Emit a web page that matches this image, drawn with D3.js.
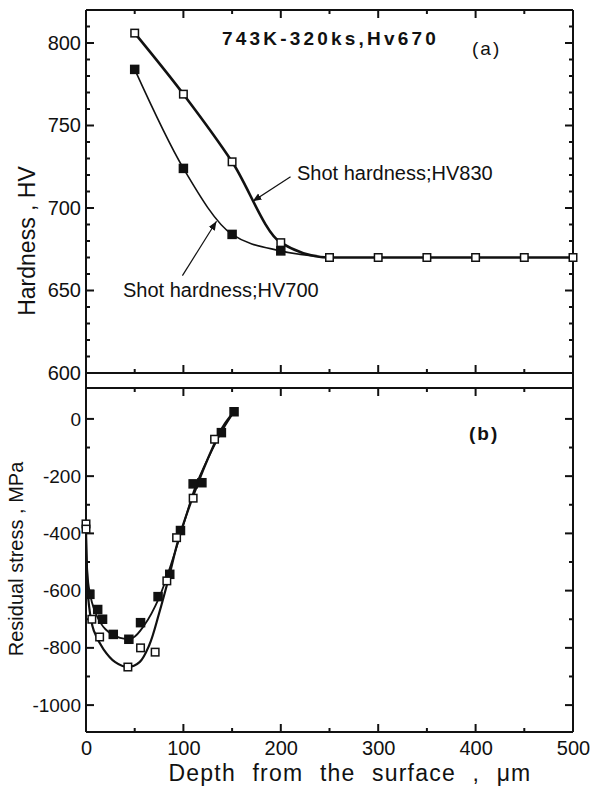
<!DOCTYPE html>
<html>
<head>
<meta charset="utf-8">
<script src="https://cdn.jsdelivr.net/npm/d3@7"></script>
<style>
	body { margin: 0; background: white; }
	text { font-family: "Liberation Sans", Arial, sans-serif; fill: #111; }
</style>
</head>
<body>
<div id="viz"></div>
<script>

// Depth axis
var depthTicks = [0, 100, 200, 300, 400, 500],
	depthMinor = [50, 150, 250, 350, 450];

// (a) hardness panel
var hardTicks = [600, 650, 700, 750, 800],
	depthHard = [50, 100, 150, 200, 250, 300, 350, 400, 450, 500],
	hv830 = [806, 769, 728, 679, 670, 670, 670, 670, 670, 670],
	depthHard700 = [50, 100, 150, 200, 250],
	hv700 = [784, 724, 684, 674, 670];

// (b) residual stress panel
var stressTicks = [0, -200, -400, -600, -800, -1000],
	depthOpen = [0, 0, 6, 14, 43, 56, 71, 83, 93, 110, 132],
	stressOpen = [-367, -385, -700, -762, -867, -800, -815, -566, -415, -277, -71],
	depthFilled = [4, 12, 17, 28, 44, 56, 74, 86, 97, 110, 119, 139, 152],
	stressFilled = [-613, -666, -700, -753, -770, -712, -621, -543, -390, -227, -223, -48, 25];

// fitted curves
var fitOpenDepth = [0, 3, 8, 18, 30, 43, 55, 65, 75, 85, 95, 110, 125, 140, 152],
	fitOpenStress = [-380, -650, -740, -805, -850, -867, -850, -790, -680, -555, -420, -270, -140, -30, 25],
	fitFilledDepth = [0, 3, 10, 20, 35, 48, 60, 75, 90, 100, 112, 125, 140, 152],
	fitFilledStress = [-380, -590, -680, -735, -765, -765, -720, -625, -480, -370, -240, -140, -40, 25];

var width = 594, height = 787;

var x = d3.scaleLinear([0, 500], [86, 573]),
	yA = d3.scaleLinear([600, 820], [373, 10]),
	yB = d3.scaleLinear([-1094, 108], [732, 388]);

var svg = d3.select("#viz")
	.append("svg")
	.attr("width", width)
	.attr("height", height)
	.style("background-color", "white");

var zip = (xs, ys) => xs.map((d, i) => [d, ys[i]]);

// Tick marks, drawn inward from each border
var ticks = svg.append("g").style("stroke", "#111").style("stroke-width", 2);

var xTickSet = depthTicks.slice(1, 5).map(d => ({v: d, len: 8}))
	.concat(depthMinor.map(d => ({v: d, len: 4})));
[[yA(600), -1], [yA(820), 1], [yB(108), 1], [yB(-1094), -1]].forEach(b => {
	ticks.append("g").selectAll("line")
		.data(xTickSet)
		.enter()
		.append("line")
		.attr("x1", d => x(d.v)).attr("x2", d => x(d.v))
		.attr("y1", b[0]).attr("y2", d => b[0] + b[1] * d.len);
});

var hardMinor = d3.range(610, 820, 10).filter(d => d % 50 != 0),
	stressMinor = d3.range(-1000, 100, 100).filter(d => d % 200 != 0);
var yTickSet = hardTicks.slice(1).map(d => ({y: yA(d), len: 8}))
	.concat(hardMinor.map(d => ({y: yA(d), len: 4})))
	.concat(stressTicks.map(d => ({y: yB(d), len: 8})))
	.concat(stressMinor.map(d => ({y: yB(d), len: 4})));
[[x(0), 1], [x(500), -1]].forEach(b => {
	ticks.append("g").selectAll("line")
		.data(yTickSet)
		.enter()
		.append("line")
		.attr("y1", d => d.y).attr("y2", d => d.y)
		.attr("x1", b[0]).attr("x2", d => b[0] + b[1] * d.len);
});

// Tick labels
var plain = d => String(d);

svg.append("g").attr("transform", "translate(86,0)")
	.call(d3.axisLeft(yA).tickValues(hardTicks).tickFormat(plain).tickSize(0).tickPadding(5))
	.call(g => g.select(".domain").remove())
	.selectAll("text").style("font-size", "20px").style("font-family", "Liberation Sans").attr("fill", "#111");

svg.append("g").attr("transform", "translate(86,0)")
	.call(d3.axisLeft(yB).tickValues(stressTicks).tickFormat(plain).tickSize(0).tickPadding(5))
	.call(g => g.select(".domain").remove())
	.selectAll("text").style("font-size", "19px").style("font-family", "Liberation Sans").attr("fill", "#111");

svg.append("g").attr("transform", "translate(0,732)")
	.call(d3.axisBottom(x).tickValues(depthTicks).tickFormat(plain).tickSize(0).tickPadding(9))
	.call(g => g.select(".domain").remove())
	.selectAll("text").style("font-size", "20px").style("font-family", "Liberation Sans").attr("fill", "#111");

// Frame lines
var frame = svg.append("g").style("stroke", "#111").style("stroke-width", 2).style("fill", "none");
frame.append("line").attr("x1", x(0)).attr("x2", x(0)).attr("y1", yA(820)).attr("y2", yB(-1094));
frame.append("line").attr("x1", x(500)).attr("x2", x(500)).attr("y1", yA(820)).attr("y2", yB(-1094));
[yA(820), yA(600), yB(108), yB(-1094)].forEach(y => {
	frame.append("line").attr("x1", x(0)).attr("x2", x(500)).attr("y1", y).attr("y2", y);
});

// Lines
var line = (sx, sy, curve) => d3.line().x(d => sx(d[0])).y(d => sy(d[1])).curve(curve);

svg.append("path")
	.attr("d", line(x, yA, d3.curveMonotoneX)(zip(depthHard700, hv700)))
	.style("fill", "none").style("stroke", "#111").style("stroke-width", 1.6);
svg.append("path")
	.attr("d", line(x, yA, d3.curveMonotoneX)(zip(depthHard, hv830)))
	.style("fill", "none").style("stroke", "#111").style("stroke-width", 2.6);

svg.append("path")
	.attr("d", line(x, yB, d3.curveCatmullRom.alpha(0.5))(zip(fitFilledDepth, fitFilledStress)))
	.style("fill", "none").style("stroke", "#111").style("stroke-width", 1.8);
svg.append("path")
	.attr("d", line(x, yB, d3.curveCatmullRom.alpha(0.5))(zip(fitOpenDepth, fitOpenStress)))
	.style("fill", "none").style("stroke", "#111").style("stroke-width", 2.2);

// Markers
var squares = (data, sx, sy, filled, size) => {
	svg.append("g").selectAll("rect")
		.data(data)
		.enter()
		.append("rect")
		.attr("x", d => sx(d[0]) - size / 2)
		.attr("y", d => sy(d[1]) - size / 2)
		.attr("width", size)
		.attr("height", size)
		.style("fill", filled ? "#111" : "white")
		.style("stroke", "#111")
		.style("stroke-width", 1.5);
};

squares(zip(depthHard700, hv700).slice(0, 4), x, yA, true, 8);
squares(zip(depthHard, hv830), x, yA, false, 7.5);
squares(zip(depthFilled, stressFilled), x, yB, true, 8);
squares(zip(depthOpen, stressOpen), x, yB, false, 7.5);

// Arrows
svg.append("defs").append("marker")
	.attr("id", "head")
	.attr("viewBox", "0 0 10 10")
	.attr("refX", 10).attr("refY", 5)
	.attr("markerWidth", 9).attr("markerHeight", 9)
	.attr("markerUnits", "userSpaceOnUse")
	.attr("orient", "auto")
	.append("path").attr("d", "M0,1 L10,5 L0,9 Z").style("fill", "#111");

var arrows = [
	{from: [210, 719], to: [171, 704]},
	{from: [99, 659], to: [134, 692]}
];
svg.selectAll(".arrow")
	.data(arrows)
	.enter()
	.append("line")
	.attr("class", "arrow")
	.attr("x1", d => x(d.from[0])).attr("y1", d => yA(d.from[1]))
	.attr("x2", d => x(d.to[0])).attr("y2", d => yA(d.to[1]))
	.style("stroke", "#111").style("stroke-width", 1.2)
	.attr("marker-end", "url(#head)");

// Texts
var label = (txt, tx, ty, size, opts) => {
	opts = opts || {};
	var t = svg.append("text")
		.attr("x", tx).attr("y", ty)
		.attr("text-anchor", opts.anchor || "start")
		.style("font-size", size + "px")
		.text(txt);
	if (opts.bold) t.style("font-weight", "bold");
	if (opts.spacing) t.style("letter-spacing", opts.spacing);
	if (opts.word) t.style("word-spacing", opts.word);
	if (opts.rotate) t.attr("transform", `rotate(-90,${tx},${ty})`);
	return t;
};

label("743K-320ks,Hv670", 222, 45, 19, {bold: true, spacing: "3.2px"});
label("(a)", 472, 55, 19, {spacing: "2px"});
label("(b)", 469, 440, 19, {bold: true, spacing: "2px"});
label("Shot hardness;HV830", 297, 180, 20);
label("Shot hardness;HV700", 123, 297, 20);
label("Hardness ,  HV", 35, 241, 23, {anchor: "middle", rotate: true});
label("Residual stress , MPa", 23, 559, 20, {anchor: "middle", rotate: true});
label("Depth from the surface , μm", 350, 781, 23, {anchor: "middle", spacing: "1.2px", word: "9px"});

</script>
</body>
</html>
